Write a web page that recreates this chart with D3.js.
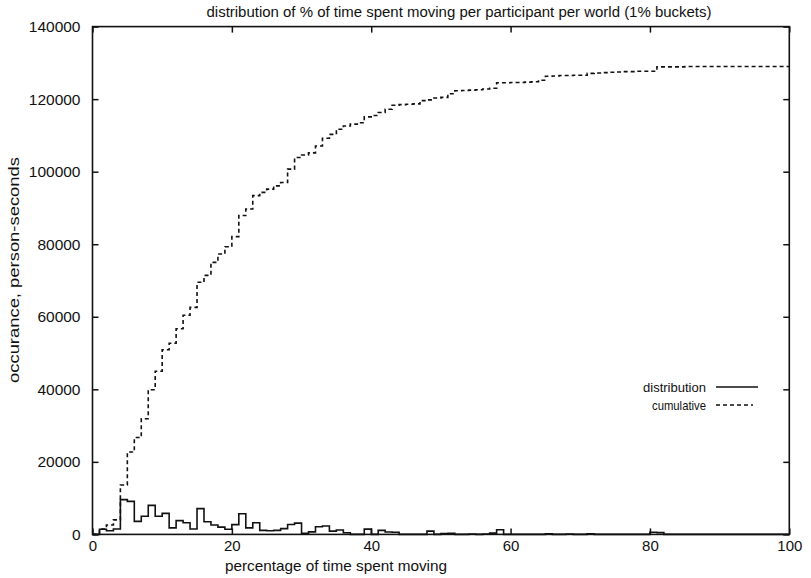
<!DOCTYPE html>
<html>
<head>
<meta charset="utf-8">
<script src="https://cdn.jsdelivr.net/npm/d3@7"></script>
<style>
  body { margin: 0; background: #fff; }
  text { font-family: "Liberation Sans", Arial, sans-serif; fill: #111; }
  .axis path { display: none; }
  .axis line { stroke: #111; stroke-width: 1.5; }
</style>
</head>
<body>
<div id="chart"></div>
<script>
// values, one per 1% bucket (bucket 0 .. 99)
var distribution = [
    0, 1400, 1000, 1500, 9600, 9100, 3600, 5000, 8000, 5000,
    5800, 1800, 3800, 3200, 1500, 7100, 3500, 2600, 2000, 1400,
    2700, 5700, 1800, 3200, 1100, 1000, 1100, 1600, 2750, 3100,
    300, 700, 2100, 2300, 900, 1200, 450, 0, 0, 1450,
    0, 1100, 650, 600, 0, 0, 0, 0, 900, 0,
    250, 300, 0, 0, 100, 0, 100, 350, 1300, 0,
    0, 0, 0, 0, 0, 150, 0, 0, 100, 0,
    0, 150, 0, 0, 0, 0, 0, 0, 0, 0,
    600, 500, 0, 0, 0, 0, 0, 0, 0, 0,
    0, 0, 0, 0, 0, 0, 0, 0, 0, 0
];

var cumulative = [
    0, 1500, 2600, 4000, 13600, 22700, 26700, 31900, 39900, 45000,
    50900, 52700, 56700, 60400, 62600, 69500, 71400, 75000, 77300, 79300,
    82100, 87900, 89700, 93400, 94300, 95200, 96100, 97000, 100700, 103900,
    104600, 105200, 107100, 109200, 110300, 111700, 112600, 113100, 113500, 115100,
    115500, 116300, 117200, 118300, 118500, 118600, 118700, 119600, 119800, 120300,
    120500, 121500, 122300, 122400, 122500, 122600, 122800, 123000, 124500, 124500,
    124600, 124600, 124700, 124800, 125200, 126300, 126400, 126500, 126500, 126600,
    126600, 127100, 127200, 127300, 127400, 127500, 127600, 127600, 127700, 127700,
    127700, 128900, 128900, 128900, 128900, 129000, 129000, 129000, 129000, 129000,
    129000, 129000, 129000, 129000, 129000, 129000, 129000, 129000, 129000, 129000
];

var xTicks = [0, 20, 40, 60, 80, 100];
var yTicks = [0, 20000, 40000, 60000, 80000, 100000, 120000, 140000];

var titleText = "distribution of % of time spent moving per participant per world (1% buckets)";
var xLabel = "percentage of time spent moving";
var yLabel = "occurance, person-seconds";
var seriesNames = ["distribution", "cumulative"];

function init() {
    var w = 811;
    var h = 578;
    var left = 92.5, right = 789.3, top = 26.6, bottom = 534.4;

    var xScale = d3.scaleLinear().domain([0, 100]).range([left, right]);
    var yScale = d3.scaleLinear().domain([0, 140000]).range([bottom, top]);

    var svg = d3.select("#chart")
                .append("svg")
                .attr("width", w)
                .attr("height", h);

    //turn an array into step points, plus one closing point at 100
    function steps(values) {
        var pts = values.map(function(v, i) { return [i, v]; });
        pts.push([values.length, values[values.length - 1]]);
        return pts;
    }

    var line = d3.line()
                 .x(function(d) { return xScale(d[0]); })
                 .y(function(d) { return yScale(d[1]); })
                 .curve(d3.curveStepAfter);

    svg.append("path")
        .datum(steps(distribution))
        .attr("fill", "none")
        .attr("stroke", "#111")
        .attr("stroke-width", 1.6)
        .attr("d", line);

    svg.append("path")
        .datum(steps(cumulative))
        .attr("fill", "none")
        .attr("stroke", "#111")
        .attr("stroke-width", 1.6)
        .attr("stroke-dasharray", "4,3")
        .attr("d", line);

    //axes with inward ticks on all four sides
    svg.append("g")
        .attr("class", "axis")
        .attr("transform", "translate(0," + bottom + ")")
        .call(d3.axisBottom(xScale).tickValues(xTicks).tickSizeInner(-6).tickSizeOuter(0).tickPadding(6))
        .selectAll("text").style("font-size", "15px");

    svg.append("g")
        .attr("class", "axis")
        .attr("transform", "translate(0," + top + ")")
        .call(d3.axisTop(xScale).tickValues(xTicks).tickSizeInner(-6).tickSizeOuter(0).tickFormat(""));

    svg.append("g")
        .attr("class", "axis")
        .attr("transform", "translate(" + left + ",0)")
        .call(d3.axisLeft(yScale).tickValues(yTicks).tickSizeInner(-6).tickSizeOuter(0).tickPadding(12).tickFormat(d3.format("d")))
        .selectAll("text").style("font-size", "15.5px");

    svg.append("g")
        .attr("class", "axis")
        .attr("transform", "translate(" + right + ",0)")
        .call(d3.axisRight(yScale).tickValues(yTicks).tickSizeInner(-6).tickSizeOuter(0).tickFormat(""));

    svg.append("rect")
        .attr("x", left)
        .attr("y", top)
        .attr("width", right - left)
        .attr("height", bottom - top)
        .attr("fill", "none")
        .attr("stroke", "#111")
        .attr("stroke-width", 1.6);

    //labels
    svg.append("text")
        .attr("x", 459)
        .attr("y", 17)
        .attr("text-anchor", "middle")
        .attr("textLength", 505)
        .attr("lengthAdjust", "spacingAndGlyphs")
        .style("font-size", "14px")
        .text(titleText);

    svg.append("text")
        .attr("x", 336)
        .attr("y", 571)
        .attr("text-anchor", "middle")
        .attr("textLength", 222)
        .attr("lengthAdjust", "spacingAndGlyphs")
        .style("font-size", "14.5px")
        .text(xLabel);

    svg.append("text")
        .attr("transform", "translate(19,270) rotate(-90)")
        .attr("text-anchor", "middle")
        .attr("textLength", 226)
        .attr("lengthAdjust", "spacingAndGlyphs")
        .style("font-size", "14.5px")
        .text(yLabel);

    //legend
    var legendLen = [63, 54];
    var legend = svg.append("g");
    seriesNames.forEach(function(name, i) {
        var y = 387 + i * 18;
        legend.append("text")
            .attr("x", 706)
            .attr("y", y + 5)
            .attr("text-anchor", "end")
            .attr("textLength", legendLen[i])
            .attr("lengthAdjust", "spacingAndGlyphs")
            .style("font-size", "13.5px")
            .text(name);
        legend.append("line")
            .attr("x1", 716)
            .attr("x2", i == 1 ? 753 : 758)
            .attr("y1", y)
            .attr("y2", y)
            .attr("stroke", "#111")
            .attr("stroke-width", 1.6)
            .attr("stroke-dasharray", i == 1 ? "4,3" : null);
    });
}
window.onload = init;
</script>
</body>
</html>
